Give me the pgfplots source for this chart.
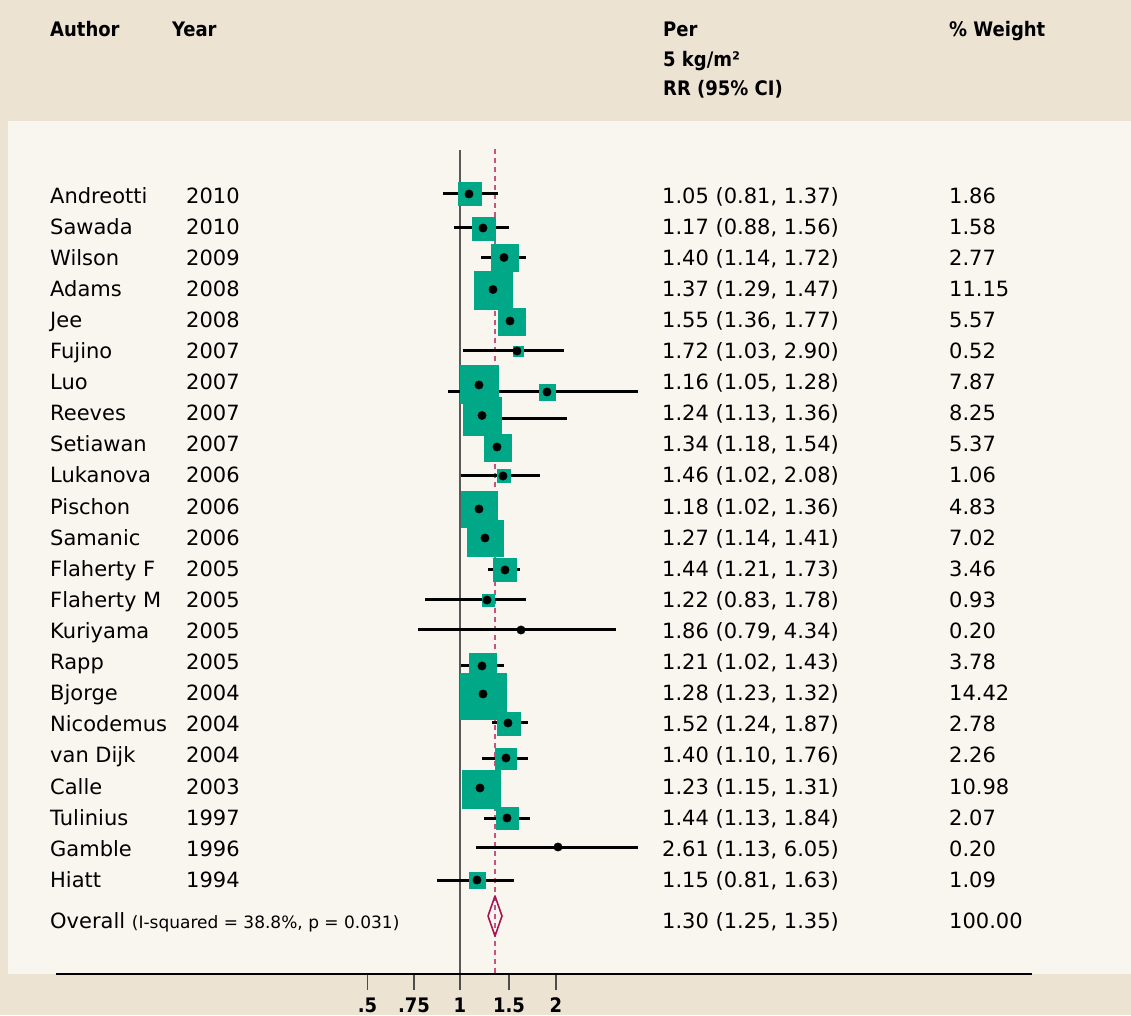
\documentclass[border=0pt]{standalone}
\usepackage{fontspec}
\setmainfont{DejaVu Sans}
\newfontfamily\headfont{DejaVu Sans Condensed Bold}
\usepackage{pgfplots}
\usepackage{pgfplotstable}
\pgfplotsset{compat=1.18}

\definecolor{bandbeige}{RGB}{236,227,211}
\definecolor{panel}{RGB}{249,246,239}
\definecolor{boxgreen}{RGB}{0,168,135}
\definecolor{refred}{RGB}{196,84,128}
\definecolor{diamondred}{RGB}{165,20,80}

\newcommand\rowfont{\fontsize{21bp}{25bp}\selectfont}
\newcommand\hfont{\headfont\fontsize{20bp}{24bp}\selectfont}

% weight boxes: centre x, centre y, half side
\pgfplotstableread{
bx    by      hs
469.5 -193.5  11.5
483.5 -228.5  11.5
504.5 -257.5  13.5
493   -290    19
511.5 -321.5  13.5
518   -351    5
479   -384    19
547   -392    8
482   -416    19
497.5 -447.5  13.5
503.5 -475.5  6.5
479   -509    18
485   -538    18
504.5 -569.5  11.5
488   -600    6
482.5 -666.5  13.5
483   -696.5  23
508.5 -723.5  11.5
505.5 -758.5  10.5
481   -789    19
507   -818    11
477   -880    8
}\boxes

% point estimates and confidence limits, as drawn
\pgfplotstableread{
x    y       lo   hi
469  -194    443  498
483  -228    454  509
504  -257.5  481  526
493  -289.5  485  500
510  -321    499  522
517  -351    463  564
479  -385    472  487
547  -392    448  638
482  -415.5  474  489
497  -447    486  509
503  -476    461  540
479  -509    461  497
485  -538    477  492
505  -570    488  520
487  -600    425  526
521  -630    418  616
482  -666    461  504
483  -694    479  487
508  -723    492  528
506  -758    482  528
480  -788    477  483
507  -818    484  530
558  -847    476  638
477  -880    437  514
}\points

\newcommand\studyrow[5]{%
  \node[anchor=base west,inner sep=0pt] at (axis cs:50,-#1) {#2};
  \node[anchor=base west,inner sep=0pt] at (axis cs:186,-#1) {#3};
  \node[anchor=base west,inner sep=0pt] at (axis cs:662,-#1) {#4};
  \node[anchor=base west,inner sep=0pt] at (axis cs:949,-#1) {#5};}

\begin{document}
\begin{tikzpicture}[font=\rowfont]
\begin{axis}[
  width=976bp, height=974bp, scale only axis,
  xmin=56, xmax=1032, ymin=-974, ymax=0,
  enlargelimits=false, clip=false, axis on top,
  axis x line*=bottom, axis y line=none,
  x axis line style={line width=2.5bp, black},
  xtick={367.5,414,460,509,556},
  xticklabels={.5,.75,1,1.5,2},
  xtick align=outside, major tick length=16bp,
  xtick style={line width=1.2bp, black!70},
  xticklabel style={font=\hfont, yshift=-4bp},
]
% backgrounds
\fill[bandbeige] (axis cs:0,0) rectangle (axis cs:1131,-1015);
\fill[panel] (axis cs:8,-121) rectangle (axis cs:1131,-974);

% null line and pooled estimate
\addplot[black!65, line width=1.5bp] coordinates {(460,-150) (460,-974)};
\addplot[refred, line width=1.5bp, dash pattern=on 5bp off 4bp] coordinates {(495,-149) (495,-974)};

% boxes
\addplot[scatter, only marks, mark=square*,
  scatter/use mapped color={draw=boxgreen, fill=boxgreen},
  visualization depends on={\thisrow{hs} \as \hs},
  scatter/@pre marker code/.append style={/tikz/mark size=\hs bp}]
  table[x=bx, y=by] {\boxes};

% confidence intervals
\addplot[draw=none, mark=none,
  error bars/.cd, x dir=both, x explicit, error mark=none,
  error bar style={draw=black, line width=3bp, solid}]
  table[x=x, y=y, x error plus expr=\thisrow{hi}-\thisrow{x},
        x error minus expr=\thisrow{x}-\thisrow{lo}] {\points};
\addplot[black, line width=3bp] coordinates {(498,-419) (567,-419)};

% point estimates
\addplot[only marks, mark=*, mark size=4.2bp, black, mark options={fill=black}]
  table[x=x, y=y] {\points};

% overall diamond
\addplot[diamondred, line width=1.6bp, line join=round]
  coordinates {(488,-916) (495,-896) (502,-916) (495,-936) (488,-916)};

% header
\node[anchor=base west,inner sep=0pt,font=\hfont] at (axis cs:50,-37) {Author};
\node[anchor=base west,inner sep=0pt,font=\hfont] at (axis cs:172,-37) {Year};
\node[anchor=base west,inner sep=0pt,font=\hfont] at (axis cs:663,-37) {Per};
\node[anchor=base west,inner sep=0pt,font=\hfont] at (axis cs:663,-67) {5 kg/m²};
\node[anchor=base west,inner sep=0pt,font=\hfont] at (axis cs:663,-96) {RR (95\% CI)};
\node[anchor=base west,inner sep=0pt,font=\hfont] at (axis cs:949,-37) {\% Weight};

% study rows
\studyrow{204}{Andreotti}{2010}{1.05 (0.81, 1.37)}{1.86}
\studyrow{235}{Sawada}{2010}{1.17 (0.88, 1.56)}{1.58}
\studyrow{266}{Wilson}{2009}{1.40 (1.14, 1.72)}{2.77}
\studyrow{297}{Adams}{2008}{1.37 (1.29, 1.47)}{11.15}
\studyrow{328}{Jee}{2008}{1.55 (1.36, 1.77)}{5.57}
\studyrow{359}{Fujino}{2007}{1.72 (1.03, 2.90)}{0.52}
\studyrow{390}{Luo}{2007}{1.16 (1.05, 1.28)}{7.87}
\studyrow{421}{Reeves}{2007}{1.24 (1.13, 1.36)}{8.25}
\studyrow{452}{Setiawan}{2007}{1.34 (1.18, 1.54)}{5.37}
\studyrow{483}{Lukanova}{2006}{1.46 (1.02, 2.08)}{1.06}
\studyrow{514.5}{Pischon}{2006}{1.18 (1.02, 1.36)}{4.83}
\studyrow{545.5}{Samanic}{2006}{1.27 (1.14, 1.41)}{7.02}
\studyrow{576.6}{Flaherty F}{2005}{1.44 (1.21, 1.73)}{3.46}
\studyrow{607.6}{Flaherty M}{2005}{1.22 (0.83, 1.78)}{0.93}
\studyrow{638.7}{Kuriyama}{2005}{1.86 (0.79, 4.34)}{0.20}
\studyrow{669.7}{Rapp}{2005}{1.21 (1.02, 1.43)}{3.78}
\studyrow{700.8}{Bjorge}{2004}{1.28 (1.23, 1.32)}{14.42}
\studyrow{731.8}{Nicodemus}{2004}{1.52 (1.24, 1.87)}{2.78}
\studyrow{762.9}{van Dijk}{2004}{1.40 (1.10, 1.76)}{2.26}
\studyrow{794}{Calle}{2003}{1.23 (1.15, 1.31)}{10.98}
\studyrow{825}{Tulinius}{1997}{1.44 (1.13, 1.84)}{2.07}
\studyrow{856}{Gamble}{1996}{2.61 (1.13, 6.05)}{0.20}
\studyrow{887}{Hiatt}{1994}{1.15 (0.81, 1.63)}{1.09}

% overall row
\node[anchor=base west,inner sep=0pt] at (axis cs:50,-928.5)
  {Overall\ {\fontsize{17bp}{20bp}\selectfont(I-squared = 38.8\%, p = 0.031)}};
\node[anchor=base west,inner sep=0pt] at (axis cs:662,-928.5) {1.30 (1.25, 1.35)};
\node[anchor=base west,inner sep=0pt] at (axis cs:949,-928.5) {100.00};
\end{axis}
\end{tikzpicture}
\end{document}
